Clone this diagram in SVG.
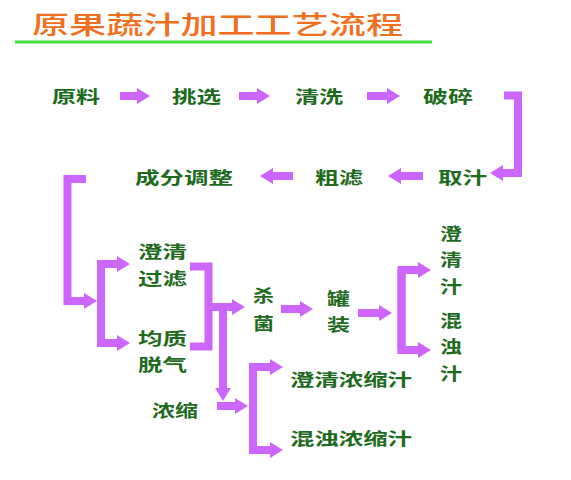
<svg xmlns="http://www.w3.org/2000/svg" width="571" height="480" viewBox="0 0 571 480">
<style>
.t{font-family:"Noto Sans CJK SC","Noto Sans",sans-serif;font-size:17px;font-weight:bold;fill:#1E6B1E;dominant-baseline:central}
.title{font-family:"Noto Sans CJK SC","Noto Sans",sans-serif;font-size:25px;font-weight:500;fill:#F07020;dominant-baseline:central}
.c{fill:none;stroke:#CC66FF;stroke-width:8;stroke-linejoin:miter;stroke-linecap:butt}
.a{marker-end:url(#ah)}
</style>
<defs>
<marker id="ah" markerUnits="userSpaceOnUse" markerWidth="14" markerHeight="17" refX="0" refY="8" orient="auto" overflow="visible">
<path d="M0,0 L13,8 L0,16 z" fill="#CC66FF"/>
</marker>
</defs>
<rect width="571" height="480" fill="#FFFFFF"/>
<g id="title">
<text class="title" x="32" y="23" textLength="371" lengthAdjust="spacingAndGlyphs">原果蔬汁加工工艺流程</text>
<line x1="15" y1="42" x2="432" y2="42" stroke="#40DD40" stroke-width="3"/>
</g>
<g id="connectors">
<path class="c a" d="M120,96 H137"/>
<path class="c a" d="M239,96 H257"/>
<path class="c a" d="M367,96 H387"/>
<path class="c a" d="M504,95.5 H518 V173 H503"/>
<path class="c a" d="M423,176 H401"/>
<path class="c a" d="M293,176 H273"/>
<path class="c a" d="M86,179 H67.5 V301 H84"/>
<path class="c a" d="M101,343 V264 H117"/>
<path class="c a" d="M101,264 V343 H117"/>
<path class="c" d="M190,266.5 H208.5 V346.5 H190"/>
<path class="c a" d="M208.5,307 H232"/>
<path class="c a" d="M223,307 V388"/>
<path class="c a" d="M217,406 H235"/>
<path class="c a" d="M253,450 V367 H270"/>
<path class="c a" d="M253,367 V450 H270"/>
<path class="c a" d="M281,309 H300"/>
<path class="c a" d="M358,313 H379"/>
<path class="c a" d="M401.5,350 V270 H418"/>
<path class="c a" d="M401.5,270 V350 H418"/>
</g>
<g id="n-raw"><text class="t" x="52" y="95" textLength="48" lengthAdjust="spacingAndGlyphs">原料</text></g>
<g id="n-pick"><text class="t" x="172" y="95" textLength="49" lengthAdjust="spacingAndGlyphs">挑选</text></g>
<g id="n-wash"><text class="t" x="295" y="95" textLength="48" lengthAdjust="spacingAndGlyphs">清洗</text></g>
<g id="n-crush"><text class="t" x="423" y="95" textLength="50" lengthAdjust="spacingAndGlyphs">破碎</text></g>
<g id="n-extract"><text class="t" x="438" y="176" textLength="49" lengthAdjust="spacingAndGlyphs">取汁</text></g>
<g id="n-coarse"><text class="t" x="315" y="176" textLength="48" lengthAdjust="spacingAndGlyphs">粗滤</text></g>
<g id="n-adjust"><text class="t" x="135" y="176" textLength="98" lengthAdjust="spacingAndGlyphs">成分调整</text></g>
<g id="n-clarify">
<text class="t" x="138" y="250" textLength="49" lengthAdjust="spacingAndGlyphs">澄清</text>
<text class="t" x="138" y="277" textLength="49" lengthAdjust="spacingAndGlyphs">过滤</text>
</g>
<g id="n-homog">
<text class="t" x="138" y="337" textLength="49" lengthAdjust="spacingAndGlyphs">均质</text>
<text class="t" x="138" y="363" textLength="49" lengthAdjust="spacingAndGlyphs">脱气</text>
</g>
<g id="n-steril">
<text class="t" x="253" y="294" textLength="21" lengthAdjust="spacingAndGlyphs">杀</text>
<text class="t" x="253" y="322" textLength="21" lengthAdjust="spacingAndGlyphs">菌</text>
</g>
<g id="n-can">
<text class="t" x="327" y="297" textLength="23" lengthAdjust="spacingAndGlyphs">罐</text>
<text class="t" x="327" y="323" textLength="23" lengthAdjust="spacingAndGlyphs">装</text>
</g>
<g id="n-juice">
<text class="t" x="440" y="232" textLength="22" lengthAdjust="spacingAndGlyphs">澄</text>
<text class="t" x="440" y="258" textLength="22" lengthAdjust="spacingAndGlyphs">清</text>
<text class="t" x="440" y="285" textLength="22" lengthAdjust="spacingAndGlyphs">汁</text>
<text class="t" x="440" y="319" textLength="22" lengthAdjust="spacingAndGlyphs">混</text>
<text class="t" x="440" y="345" textLength="22" lengthAdjust="spacingAndGlyphs">浊</text>
<text class="t" x="440" y="372" textLength="22" lengthAdjust="spacingAndGlyphs">汁</text>
</g>
<g id="n-conc"><text class="t" x="152" y="409" textLength="46" lengthAdjust="spacingAndGlyphs">浓缩</text></g>
<g id="n-clear-conc"><text class="t" x="290" y="378" textLength="122" lengthAdjust="spacingAndGlyphs">澄清浓缩汁</text></g>
<g id="n-cloudy-conc"><text class="t" x="290" y="437" textLength="122" lengthAdjust="spacingAndGlyphs">混浊浓缩汁</text></g>
</svg>
